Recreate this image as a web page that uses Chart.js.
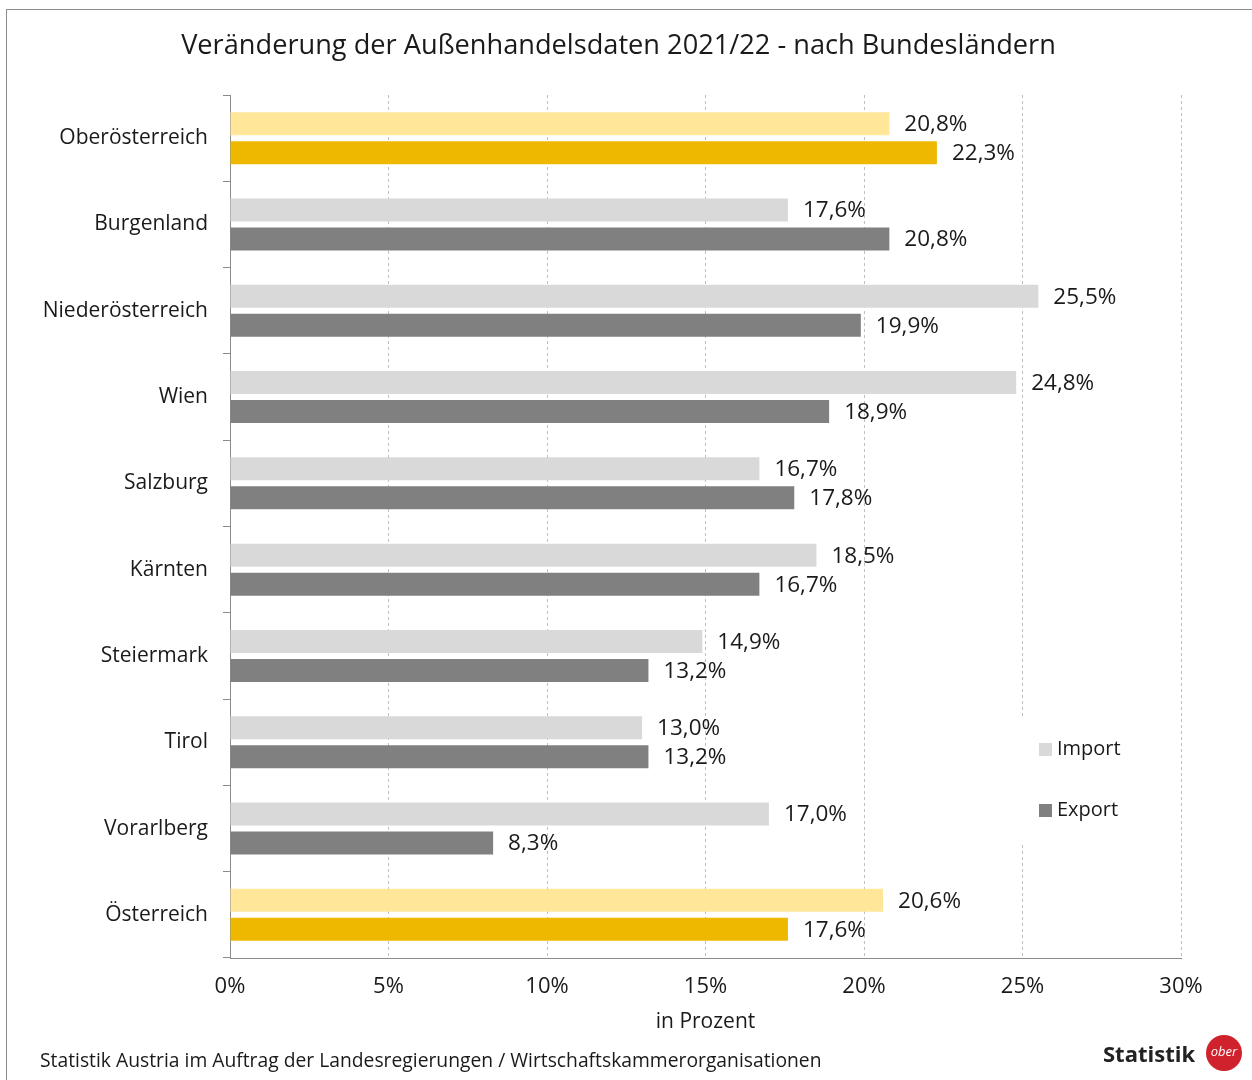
<!DOCTYPE html>
<html lang="de">
<head>
<meta charset="utf-8">
<script src="https://cdn.jsdelivr.net/npm/chart.js@4.4.1/dist/chart.umd.min.js"></script>
<style>
  body { margin: 0; background: #fff; font-family: "Open Sans", sans-serif; }
  .frame { position: absolute; left: 6px; top: 9px; width: 1260px; height: 1100px; border: 1px solid #8c8c8c; }
  .wrap { position: absolute; left: 0; top: 0; width: 1237px; height: 1080px; }
  .title { position: absolute; left: 0; top: 28px; width: 1237px; text-align: center; font-size: 27.2px;
    line-height: 1.2; color: #1a1a1a; }
  .source { position: absolute; left: 40px; top: 1046px; font-size: 19.3px; color: #1a1a1a; }
  .logo { position: absolute; left: 1103px; top: 1038px; font-size: 22px; font-weight: 700; color: #222; }
  .logo .circle { position: absolute; left: 103px; top: -3px; width: 36px; height: 36px; border-radius: 50%;
    background: #d0222d; color: #fff; font-size: 13px; font-style: italic; font-weight: 400; text-align: center; line-height: 32px; }
</style>
</head>
<body>
<div class="frame"></div>
<div class="wrap"><canvas id="myChart"></canvas></div>
<div class="title">Veränderung der Außenhandelsdaten 2021/22 - nach Bundesländern</div>
<div class="source">Statistik Austria im Auftrag der Landesregierungen / Wirtschaftskammerorganisationen</div>
<div class="logo">Statistik<span class="circle">ober</span></div>
<script>
const regions = ["Oberösterreich", "Burgenland", "Niederösterreich", "Wien", "Salzburg",
  "Kärnten", "Steiermark", "Tirol", "Vorarlberg", "Österreich"];
const importValues = [20.8, 17.6, 25.5, 24.8, 16.7, 18.5, 14.9, 13.0, 17.0, 20.6];
const exportValues = [22.3, 20.8, 19.9, 18.9, 17.8, 16.7, 13.2, 13.2, 8.3, 17.6];
const highlighted = ["Oberösterreich", "Österreich"];

const FONT = "'Open Sans', sans-serif";

const colorsFor = (normal, accent) =>
  regions.map((r) => (highlighted.includes(r) ? accent : normal));

const formatPct = (v) => v.toFixed(1).replace(".", ",") + "%";

// value labels at the bar ends
const valueLabels = {
  id: "valueLabels",
  afterDatasetsDraw(chart) {
    const ctx = chart.ctx;
    ctx.save();
    ctx.font = "22.5px " + FONT;
    ctx.fillStyle = "#1a1a1a";
    ctx.textBaseline = "middle";
    chart.data.datasets.forEach((ds, i) => {
      chart.getDatasetMeta(i).data.forEach((bar, j) => {
        ctx.fillText(formatPct(ds.data[j]), bar.x + 15, bar.y + 1);
      });
    });
    ctx.restore();
  },
};

// legend box inside the plot, on white over the grid
const boxLegend = {
  id: "boxLegend",
  afterDraw(chart) {
    const ctx = chart.ctx;
    ctx.save();
    ctx.fillStyle = "#fff";
    ctx.fillRect(1015, 719, 150, 123);
    const items = [
      { label: "Import", color: "#d9d9d9", y: 749 },
      { label: "Export", color: "#808080", y: 810 },
    ];
    ctx.font = "20px " + FONT;
    ctx.textBaseline = "middle";
    items.forEach((it) => {
      ctx.fillStyle = it.color;
      ctx.fillRect(1039, it.y - 6, 13, 13);
      ctx.fillStyle = "#1a1a1a";
      ctx.fillText(it.label, 1057, it.y);
    });
    ctx.restore();
  },
};

const main = () => {
  const ctx = document.querySelector("#myChart");
  new Chart(ctx, {
    type: "bar",
    data: {
      labels: regions,
      datasets: [
        {
          label: "Import",
          data: importValues,
          backgroundColor: colorsFor("#d9d9d9", "#ffe699"),
          categoryPercentage: 0.672,
          barPercentage: 0.793,
        },
        {
          label: "Export",
          data: exportValues,
          backgroundColor: colorsFor("#808080", "#efb800"),
          categoryPercentage: 0.672,
          barPercentage: 0.793,
        },
      ],
    },
    options: {
      indexAxis: "y",
      responsive: true,
      maintainAspectRatio: false,
      animation: false,
      layout: { padding: { left: 0, right: 56, top: 95, bottom: 0 } },
      plugins: {
        legend: { display: false },
        tooltip: { enabled: false },
      },
      scales: {
        x: {
          min: 0,
          max: 30,
          ticks: {
            stepSize: 5,
            color: "#1a1a1a",
            font: { family: FONT, size: 22 },
            padding: 16,
            callback: (v) => v + "%",
          },
          grid: {
            color: "#bfbfbf",
            drawTicks: false,
            tickBorderDash: [3, 3],
          },
          border: { display: true, color: "#8c8c8c", dash: [3, 3] },
          title: {
            display: true,
            text: "in Prozent",
            color: "#1a1a1a",
            font: { family: FONT, size: 21 },
            padding: { top: 6, bottom: 45 },
          },
          afterFit: (s) => { s.height = 122; },
        },
        y: {
          ticks: {
            color: "#1a1a1a",
            font: { family: FONT, size: 21 },
            padding: 15,
          },
          grid: {
            drawOnChartArea: false,
            drawTicks: true,
            tickLength: 7,
            color: "#8c8c8c",
          },
          border: { display: true, color: "#8c8c8c" },
          afterFit: (s) => { s.width = 230; },
        },
      },
    },
    plugins: [valueLabels, boxLegend],
  });
};
main();
</script>
</body>
</html>
